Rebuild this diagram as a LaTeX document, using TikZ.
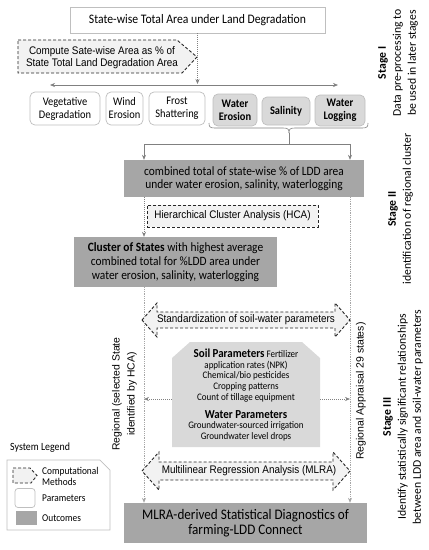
\documentclass[tikz,border=0pt]{standalone}
\usepackage{fontspec}
\setmainfont{Carlito}[FakeStretch=0.9]
\newfontfamily\rotf{Carlito}
\newfontfamily\arialf{Liberation Sans}[FakeStretch=0.9]
\newfontfamily\arialr{Liberation Sans}
\usetikzlibrary{arrows.meta}
\definecolor{outgray}{HTML}{A6A6A6}
\definecolor{catgray}{HTML}{D9D9D9}
\definecolor{methfill}{HTML}{F2F2F2}
\definecolor{linegray}{HTML}{808080}
\definecolor{bordgray}{HTML}{BFBFBF}
\newcommand{\fsz}[2]{\fontsize{#1}{#2}\selectfont}
\begin{document}
\begin{tikzpicture}[x=1pt,y=-1pt,
  box/.style={align=center, inner sep=1pt, text=black},
  plainbox/.style={box, draw=bordgray, fill=white, line width=0.7pt},
  catbox/.style={box, draw=bordgray, fill=white, line width=0.7pt, rounded corners=5pt, font=\fsz{11.6}{13}},
  catbold/.style={catbox, fill=catgray, font=\bfseries\fsz{11.6}{13}},
  outbox/.style={box, fill=outgray},
  methline/.style={draw=black!85, dash pattern=on 3pt off 2pt, line width=0.9pt, fill=methfill},
  conn/.style={draw=linegray, line width=0.6pt},
  dotc/.style={conn, dash pattern=on 1pt off 1pt},
  lightdot/.style={draw=linegray!70, line width=0.6pt, dash pattern=on 1pt off 0.8pt},
  tip/.style={-{Stealth[length=5pt,width=4pt]}},
  stagetxt/.style={rotate=90, align=center, font=\rotf\fsz{11.7}{15}},
]
\useasboundingbox (0,0) rectangle (429,550);

% ---------- Stage I ----------
\node[plainbox, minimum width=255, minimum height=26, font=\fsz{13}{14}] (top) at (197.5,20) {State-wise Total Area under Land Degradation};

\path[methline] (18,40) -- (177,40) -- (197,57) -- (182,73) -- (18,73) -- cycle;
\node[box, font=\arialf\fsz{11}{12}] (comp) at (102,57.5) {Compute Sate-wise Area as \% of\\State Total Land Degradation Area};

\coordinate (hm) at (197.5,84);
\coordinate (hl) at (50,85);
\coordinate (hr) at (338,85);
\draw[conn, {Stealth[length=5pt,width=4pt]}-{Stealth[length=5pt,width=4pt]}] (hl) -- (hr);
\draw[dotc, tip] (top.south) -- (hm);

\node[catbox, minimum width=70, minimum height=33] (veg) at (65,108.5) {Vegetative\\Degradation};
\node[catbox, minimum width=37, minimum height=33] (wind) at (124.5,108.5) {Wind\\Erosion};
\node[catbox, minimum width=56, minimum height=33] (frost) at (177,108.5) {Frost\\Shattering};
\node[catbold, minimum width=44, minimum height=32] (wero) at (235,110) {Water\\Erosion};
\node[catbold, minimum width=48, minimum height=28] (sal) at (286,111) {Salinity};
\node[catbold, minimum width=50, minimum height=31] (wlog) at (340,110.5) {Water\\Logging};

% brace
\draw[conn] (209,123) .. controls (209,127) and (210,128) .. (215,128) -- (283,128) .. controls (288,128) and (289,129) .. (289,133);
\draw[conn] (368,123) .. controls (368,127) and (367,128) .. (362,128) -- (295,128) .. controls (290,128) and (289,129) .. (289,133);
\coordinate (bt) at (289,133);
\coordinate (jn) at (289,144);
\coordinate (Lx) at (144,0);
\coordinate (Rx) at (350,0);

% ---------- Stage II ----------
\node[outbox, minimum width=240, minimum height=37, font=\fsz{12.7}{13.5}] (comb) at (244,178.5) {combined total of state-wise \% of LDD area\\under water erosion, salinity, waterlogging};
\draw[conn] (bt) -- (jn);
\draw[conn, tip] (jn) -| (comb.north -| Lx);
\draw[conn, tip] (jn) -| (comb.north -| Rx);

\node[box, methline, minimum width=171, minimum height=22, font=\arialf\fsz{11}{12}] (hca) at (232.5,216) {Hierarchical Cluster Analysis (HCA)};

\node[outbox, minimum width=203, minimum height=50, font=\fsz{12.7}{14}] (clus) at (175.5,262) {\textbf{Cluster of States} with highest average\\combined total for \%LDD area under\\water erosion, salinity, waterlogging};

\node[outbox, minimum width=243, minimum height=40, font=\fsz{14.6}{15.5}] (res) at (245.5,523) {MLRA-derived Statistical Diagnostics of\\farming-LDD Connect};

\draw[dotc, tip] (comb.south -| Lx) -- (clus.north -| Lx);
\draw[lightdot, tip] (clus.south -| Lx) -- (res.north -| Lx);
\draw[lightdot, tip] (comb.south -| Rx) -- (res.north -| Rx);

% ---------- Stage III ----------
\path[methline] (142,320) -- (157,303) -- (157,312) -- (335,312) -- (335,303) -- (350,320) -- (335,337) -- (335,328) -- (157,328) -- (157,337) -- cycle;
\node[box, font=\arialf\fsz{11}{12}] (std) at (246,320) {Standardization of soil-water parameters};

\node[inner sep=0, minimum width=148, minimum height=105] (soil) at (246,394.5) {};
\fill[catgray] (172,358) -- (190,342) -- (302,342) -- (320,358) -- (320,447) -- (172,447) -- cycle;
\node[align=center, font=\fsz{10}{10.7}] (soiltxt) at (246,395) {{\bfseries\fsz{12.2}{12}Soil Parameters} Fertilizer\\application rates (NPK)\\Chemical/bio pesticides\\Cropping patterns\\Count of tillage equipment\\[7pt]{\bfseries\fsz{12.2}{12}Water Parameters}\\Groundwater-sourced irrigation\\Groundwater level drops};

\coordinate (ya) at (0,399);
\draw[dotc, tip] (soil.west |- ya) -- (Lx |- ya);
\draw[dotc, tip] (soil.east |- ya) -- (Rx |- ya);

\node[rotate=90, align=center, font=\arialr\fsz{10.4}{15}] (lreg) at (124.5,394) {Regional (selected State\\identified by HCA)};
\node[rotate=90, font=\arialr\fsz{10.5}{13}] (rreg) at (361,391) {Regional Appraisal 29 states)};

\path[methline] (142,471) -- (159,452) -- (159,462) -- (333,462) -- (333,452) -- (350,471) -- (333,490) -- (333,480) -- (159,480) -- (159,490) -- cycle;
\node[box, font=\arialf\fsz{11}{12}] (mlra) at (249,471) {Multilinear Regression Analysis (MLRA)};

% ---------- Legend ----------
\node[anchor=west, font=\fsz{11}{12}, inner sep=0] (legt) at (10,448) {System Legend};
\path[draw=bordgray, fill=white, line width=0.7pt] (7,460) -- (100,460) -- (110,470) -- (110,530) -- (7,530) -- cycle;
\path[methline, line width=0.8pt] (13,468) -- (30,468) -- (37,475.5) -- (31,483) -- (13,483) -- cycle;
\node[draw=bordgray, fill=white, rounded corners=3pt, minimum width=20, minimum height=19, inner sep=0, line width=0.7pt] (lpar) at (25,498) {};
\node[fill=outgray, minimum width=21, minimum height=14, inner sep=0] (lout) at (26.5,518) {};
\node[anchor=west, align=left, font=\fsz{10.4}{10.5}, inner sep=0] (lcomp) at (42,476.5) {Computational\\Methods};
\node[anchor=west, font=\fsz{10.4}{11}, inner sep=0] (lpart) at (42,498) {Parameters};
\node[anchor=west, font=\fsz{10.4}{11}, inner sep=0] (loutt) at (42,518) {Outcomes};

% ---------- Stage labels ----------
\node[stagetxt] (s1) at (398,63) {\textbf{Stage I}\\Data pre-processing to\\be used in later stages};
\node[stagetxt] (s2) at (400.5,209) {\textbf{Stage II}\\identification of regional cluster};
\node[stagetxt] (s3) at (403,417) {\textbf{Stage III}\\Identify statistically significant relationships\\between LDD area and soil-water parameters};
\end{tikzpicture}
\end{document}
